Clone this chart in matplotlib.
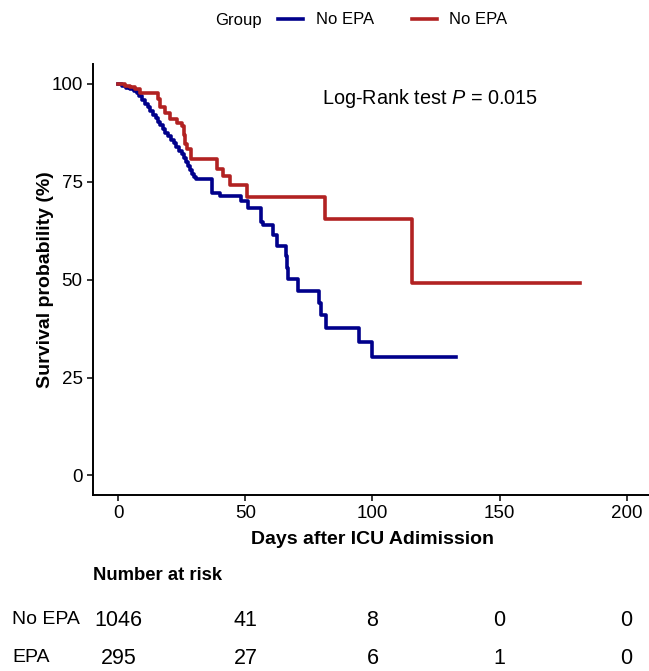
import matplotlib
matplotlib.use("Agg")
import matplotlib.pyplot as plt
import matplotlib.transforms as mtrans

plt.rcParams['font.family'] = ['Liberation Sans', 'DejaVu Sans']
plt.rcParams['mathtext.fontset'] = 'custom'
plt.rcParams['mathtext.rm'] = 'Liberation Sans'
plt.rcParams['mathtext.it'] = 'Liberation Sans:italic'

# Kaplan-Meier steps (days, survival %)
no_epa_time = [0, 1.5, 3, 4.5, 6, 7.2, 8.2, 9.2, 10.3, 11.5, 12.6, 13.6, 14.6, 15.6,
               16.5, 17.4, 18.4, 19.5, 20.6, 21.7, 22.8, 23.9, 24.9, 25.9, 26.7,
               27.5, 28.2, 28.9, 29.7, 30.5, 36.9, 40.0, 48.2, 51.1, 56.1, 56.8,
               60.7, 62.3, 65.8, 66.2, 66.6, 70.8, 78.9, 79.9, 81.7, 94.7, 99.7, 132.9]
no_epa_surv = [100, 99.5, 99.0, 98.7, 98.2, 97.8, 96.8, 95.8, 94.9, 94.0, 93.1, 92.1,
               91.3, 90.4, 89.4, 88.5, 87.5, 86.6, 85.7, 84.8, 83.9, 83.0, 82.0, 81.0,
               80.0, 79.0, 78.0, 77.0, 76.3, 75.6, 72.2, 71.3, 70.0, 68.3, 64.8, 64.0,
               61.5, 58.7, 56.0, 53.0, 50.2, 47.0, 44.0, 41.0, 37.6, 34.0, 30.2, 30.2]

epa_time = [0, 2.5, 4.5, 6.5, 8.5, 15.7, 16.4, 18.3, 20.3, 22.9, 24.9, 25.8, 26.2,
            27.1, 28.4, 38.7, 41.3, 43.9, 50.8, 81.3, 115.4, 181.7]
epa_surv = [100, 99.6, 99.2, 98.8, 97.8, 96.1, 94.0, 92.7, 91.0, 90.1, 89.3, 87.0,
            84.6, 83.3, 80.8, 78.4, 76.4, 74.2, 71.2, 65.5, 49.2, 49.2]

risk_times = [0, 50, 100, 150, 200]
risk_no_epa = [1046, 41, 8, 0, 0]
risk_epa = [295, 27, 6, 1, 0]

W, H = 649, 671
fig = plt.figure(figsize=(W / 100, H / 100), dpi=100)
ax = fig.add_axes([93 / W, (H - 495) / H, 559 / W, 430.6 / H])

blue = '#00008B'
red = '#B22222'
l1, = ax.step(no_epa_time, no_epa_surv, where='post', color=blue, lw=2.6)
l2, = ax.step(epa_time, epa_surv, where='post', color=red, lw=2.6)

ax.set_xlim(-10, 210)
ax.set_ylim(-5, 105)
ax.set_xticks(risk_times)
ax.set_yticks([0, 25, 50, 75, 100])
for s in ['top', 'right']:
    ax.spines[s].set_visible(False)
for s in ['left', 'bottom']:
    ax.spines[s].set_linewidth(1.4)
ax.tick_params(length=4.5, width=1.1, labelsize=13.5, pad=3)
ax.set_xlabel('Days after ICU Adimission', fontsize=14, fontweight='bold', labelpad=6)
ax.set_ylabel('Survival probability (%)', fontsize=14, fontweight='bold', labelpad=-2)

ax.text(122.6, 96.4, 'Log-Rank test $P$ = 0.015', fontsize=14.3,
        ha='center', va='center')

# legend at the top
fig.text(215 / W, 1 - 20 / H, 'Group', fontsize=12, ha='left', va='center')
fig.legend([l1, l2], ['No EPA', 'No EPA'], ncol=2, frameon=False, fontsize=12,
           loc='center left', bbox_to_anchor=(263 / W, 1 - 20 / H),
           handlelength=1.5, handletextpad=0.75, columnspacing=2.3)

# number at risk table
tr = mtrans.blended_transform_factory(ax.transData, fig.transFigure)
fig.text(93 / W, 1 - 575 / H, 'Number at risk', fontsize=13.3, fontweight='bold',
         ha='left', va='center')
rows = [('No EPA', risk_no_epa, 620), ('EPA', risk_epa, 658)]
for name, vals, ypx in rows:
    fig.text(12 / W, 1 - ypx / H, name, fontsize=14, ha='left', va='center')
    for t, v in zip(risk_times, vals):
        fig.text(t, 1 - ypx / H, str(v), fontsize=15.5, ha='center', va='center',
                 transform=tr)

fig.savefig('out.png', dpi=100)
